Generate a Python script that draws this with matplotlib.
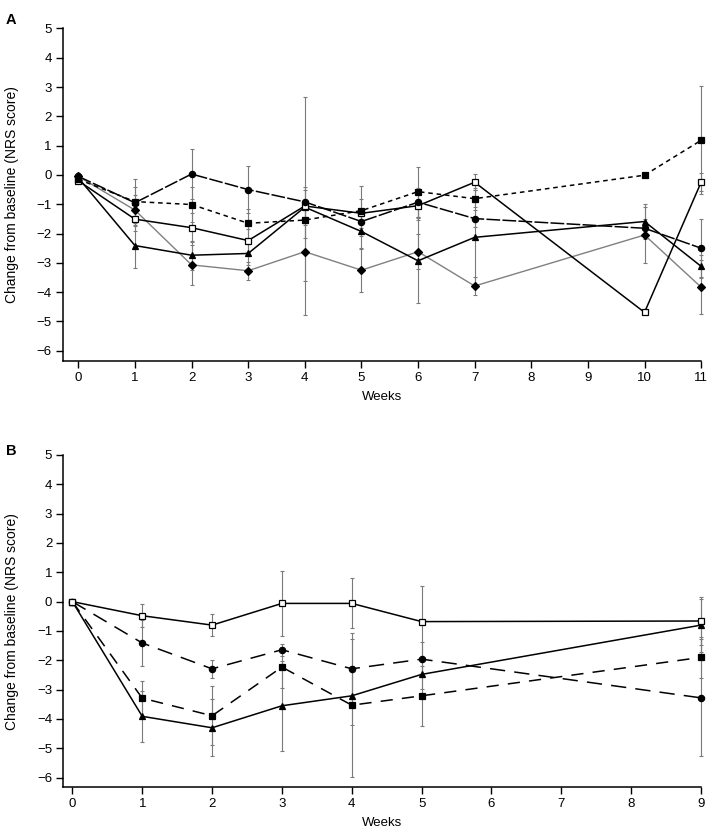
import matplotlib
matplotlib.use("Agg")
import matplotlib.pyplot as plt
import numpy as np

plt.rcParams['font.family'] = ['Liberation Sans', 'DejaVu Sans']

# Panel A data
weeks_a = [0, 1, 2, 3, 4, 5, 6, 7, 10, 11]
a_circ = [-0.05, -0.95, 0.03, -0.5, -0.92, -1.59, -0.93, -1.49, -1.82, -2.5]
a_circ_err = [0, 0.8, 0.85, 0.81, 0.5, 0.4, 0.5, 0.3, 0.3, 1.0]
a_sq = [-0.15, -0.91, -1.01, -1.65, -1.54, -1.22, -0.57, -0.81, -0.01, 1.18]
a_sq_err = [0, 0.5, 0.6, 0.5, 0.6, 0.85, 0.85, 0.3, 0, 1.84]
a_osq = [-0.2, -1.51, -1.8, -2.24, -1.06, -1.31, -1.05, -0.25, -4.69, -0.25]
a_osq_err = [0, 0.4, 0.5, 0.4, 3.72, 0.5, 0.5, 0.28, 0, 0.3]
a_tri = [-0.1, -2.41, -2.74, -2.68, -1.1, -1.93, -2.93, -2.13, -1.59, -3.12]
a_tri_err = [0, 0.77, 0.5, 0.4, 0.6, 0.6, 1.45, 1.7, 0.6, 0.4]
a_dia = [-0.05, -1.2, -3.07, -3.27, -2.62, -3.25, -2.62, -3.79, -2.05, -3.83]
a_dia_err = [0, 0.5, 0.68, 0.3, 1.0, 0.75, 0.6, 0.3, 0.97, 0.92]

# Panel B data
weeks_b = [0, 1, 2, 3, 4, 5, 9]
b_osq = [0, -0.48, -0.8, -0.06, -0.06, -0.68, -0.66]
b_osq_err = [0, 0.4, 0.37, 1.1, 0.85, 1.23, 0.83]
b_circ = [0, -1.41, -2.29, -1.64, -2.29, -1.96, -3.28]
b_circ_err = [0, 0.8, 0.3, 0.2, 1.0, 0.6, 1.99]
b_sq = [0, -3.29, -3.89, -2.23, -3.53, -3.21, -1.9]
b_sq_err = [0, 0.6, 1.0, 0.7, 2.46, 1.02, 0.7]
b_tri = [0, -3.91, -4.3, -3.55, -3.21, -2.48, -0.8]
b_tri_err = [0, 0.86, 0.97, 1.53, 1.0, 0.5, 0.9]

yticks = list(range(-6, 6))
ylabel = 'Change from baseline (NRS score)'

fig = plt.figure(figsize=(7.09, 8.35), dpi=100)
ax_a = fig.add_axes([0.0889, 0.568, 0.9000, 0.398])
ax_b = fig.add_axes([0.0893, 0.0571, 0.8994, 0.398])

ECOL = '#7a7a7a'


def series(ax, x, y, err, marker, ls, color='black', mfc='black', lw=1.1):
    ax.errorbar(x, y, yerr=err, fmt='none', ecolor=ECOL, elinewidth=0.8,
                capsize=1.3, capthick=0.8, zorder=1, clip_on=False)
    ax.plot(x, y, color=color, linestyle=ls, linewidth=lw, marker=marker,
            markersize=4.5, markerfacecolor=mfc, markeredgecolor='black',
            markeredgewidth=0.9, zorder=3, clip_on=False)


def style(ax, xmin, xmax, xticks, ymin):
    ax.set_xlim(xmin, xmax)
    ax.set_ylim(ymin, 5)
    ax.set_xticks(xticks)
    ax.set_yticks(yticks)
    for s in ['top', 'right']:
        ax.spines[s].set_visible(False)
    for s in ['left', 'bottom']:
        ax.spines[s].set_linewidth(1.1)
    ax.spines['left'].set_bounds(ymin, 5)
    ax.tick_params(direction='out', length=5, width=1.0, labelsize=9.5, pad=3)
    ax.set_xlabel('Weeks', fontsize=9.5, labelpad=5)
    ax.set_ylabel(ylabel, fontsize=10, labelpad=13)


series(ax_a, weeks_a, a_dia, a_dia_err, 'D', '-', color='#808080', lw=1.0)
series(ax_a, weeks_a, a_tri, a_tri_err, '^', '-')
series(ax_a, weeks_a, a_osq, a_osq_err, 's', '-', mfc='white')
series(ax_a, weeks_a, a_sq, a_sq_err, 's', (0, (3, 2.5)))
series(ax_a, weeks_a, a_circ, a_circ_err, 'o', (0, (9, 1.5)))
style(ax_a, -0.27, 11, range(0, 12), -6.34)

series(ax_b, weeks_b, b_tri, b_tri_err, '^', '-')
series(ax_b, weeks_b, b_sq, b_sq_err, 's', (0, (8, 6)))
series(ax_b, weeks_b, b_circ, b_circ_err, 'o', (0, (10, 6)))
series(ax_b, weeks_b, b_osq, b_osq_err, 's', '-', mfc='white')
style(ax_b, -0.13, 9, range(0, 10), -6.33)

fig.text(0.008, 0.985, 'A', fontsize=10.5, fontweight='bold', va='top')
fig.text(0.008, 0.468, 'B', fontsize=10.5, fontweight='bold', va='top')

fig.savefig('out.png', dpi=100)
